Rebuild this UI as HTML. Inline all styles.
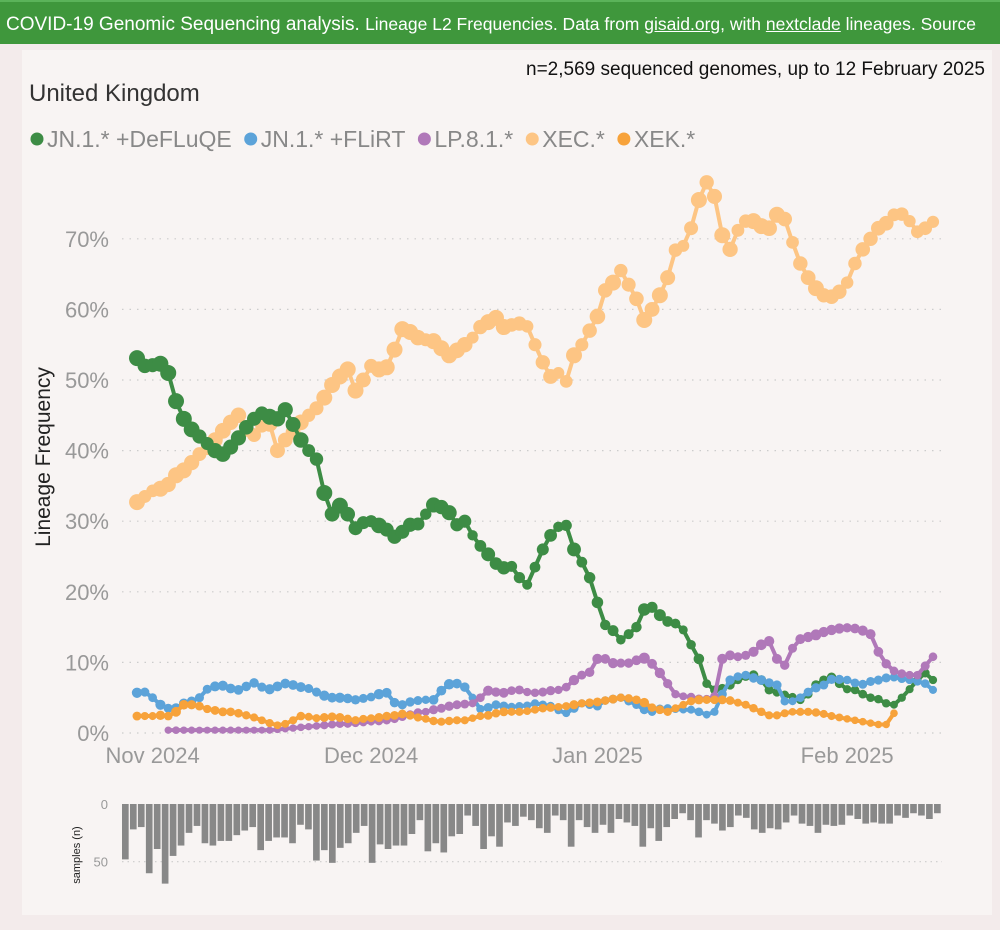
<!DOCTYPE html>
<html><head><meta charset="utf-8">
<style>
body{margin:0;width:1000px;height:930px;background:#f3ebeb;font-family:"Liberation Sans",sans-serif;overflow:hidden;position:relative}
#hdr{position:absolute;left:0;top:0;width:1000px;height:44px;background:#3f973c;color:#fff;font-size:19px;line-height:44px;white-space:nowrap;padding-left:6px;box-sizing:border-box;border-top:2px solid #5bb35a;overflow:hidden}
#hdr u{text-decoration:underline}
#panel{position:absolute;left:22px;top:50px;width:970px;height:865px;background:#f8f4f3}
svg{position:absolute;left:0;top:0}
</style></head><body>
<div id="hdr">COVID-19 Genomic Sequencing analysis. <span style="font-size:17.5px">Lineage L2 Frequencies. Data from <u>gisaid.org</u>, with <u>nextclade</u> lineages. Source</span></div>
<div id="panel"></div>
<svg id="chart" width="1000" height="930">
<text x="985" y="75" text-anchor="end" font-size="19" fill="#111">n=2,569 sequenced genomes, up to 12 February 2025</text>
<text x="29" y="101" font-size="24" fill="#333">United Kingdom</text>
<g id="legend"></g>
<text transform="translate(50,457) rotate(-90)" text-anchor="middle" font-size="21" fill="#222">Lineage Frequency</text>
<text transform="translate(80,855) rotate(-90)" text-anchor="middle" font-size="11" fill="#222">samples (n)</text>
<g id="grid"></g><g id="bars"></g><g id="series"></g><g id="axes"></g>
</svg>
<script>
const categories=["JN.1.* +DeFLuQE","JN.1.* +FLiRT","LP.8.1.*","XEC.*","XEK.*"];
const colors=["#3d8c45","#5ca3d9","#b078b9","#fdc584","#f7a23a"];
const xTickLabels=["Nov 2024","Dec 2024","Jan 2025","Feb 2025"];
const xTickIdx=[2,30,59,91];
const yTicks=[0,10,20,30,40,50,60,70];
const defluqe=[53.1,52,52.1,52.3,51,47,44.5,43,42,41,40,39.5,40.5,41.8,43.3,44.5,45.3,44.8,44.5,45.8,43.7,41.5,40,38.8,34,31,32.2,31,29,29.8,30,29.4,28.8,27.8,28.5,29.5,29.6,31,32.3,32,31.2,29.5,30,28,26.5,25.3,24,23.4,23.6,22,21,23.5,26,28,29.2,29.4,26,24.2,22,18.5,15.3,14.5,13.2,14,15,17.5,17.8,16.7,15.8,15.5,14.6,12.5,10.5,7,6.1,6.3,6.8,7.5,8,8.2,7.5,6.1,5.8,5.4,5.1,4.7,5.5,6.8,7.5,7.9,7,6.2,6.1,5.5,5,4.8,4.2,4,5,6.2,7.5,8.5,7.5];
const flirt=[5.7,5.8,5,4,3.5,3.5,4.2,4.5,5,6.2,6.6,6.7,6.3,6.1,6.6,7.1,6.5,6.2,6.6,7,6.8,6.5,6.3,5.8,5.3,5,5,4.9,4.7,4.9,5.1,5.5,5.7,4.3,4,4.4,4.6,4.7,4.7,6,6.9,7,6.5,5,3.4,3.6,4,3.8,3.7,3.8,3.9,4.2,4,3.8,3.2,2.8,3.5,4.2,4,3.8,4.6,4.8,5,4.5,4,3.3,3,3.4,3.5,3.4,3.3,3.3,3,2.6,3,5.5,7.5,8,8.2,7.8,7.5,7.1,6.8,4.5,4.5,5,5.8,6.4,6.8,7.6,7.6,7.5,7.1,6.9,7.3,7.5,7.8,7.9,7.7,7.5,7.3,7,6.1];
const lp81=[null,null,null,null,0.4,0.4,0.4,0.4,0.4,0.4,0.4,0.4,0.4,0.4,0.4,0.4,0.4,0.4,0.5,0.6,0.7,0.8,0.9,1,1.1,1.2,1.3,1.3,1.4,1.5,1.6,1.7,1.8,2,2.3,2.6,2.9,3,3.3,3.5,3.8,4,4.1,4.2,5,6,5.8,5.7,6,6.1,5.8,5.7,5.8,6,6.1,6.5,7.5,8.2,8.6,10.5,10.5,9.9,9.9,9.9,10.3,10.6,9.8,8.5,7,5.5,5.2,5.1,4.8,4.8,5.2,10.5,11,10.8,11,11.5,12.5,13,10.5,9.6,12,13.3,13.6,13.9,14.3,14.6,14.8,14.9,14.8,14.5,14,11.5,9.8,8.8,8.4,8.2,8.2,9.5,10.8];
const xec=[32.7,33.5,34.3,34.6,35.2,36.5,37.2,38.3,39.5,40.3,41.5,42.8,44,45,43,42.2,43.5,43.8,40,41.5,42.6,44,45,46,47.5,49.3,50.5,51.5,48.5,50,52,51.5,51.8,54.3,57.2,56.8,56,55.7,55.5,54.5,53.5,54.2,55,56,57.5,58.2,58.8,57.5,57.8,58,57.6,55,52.5,50.5,51,49.8,53.5,55,57,59,62.7,63.8,65.5,63.5,61.5,58.5,60,62,64.5,68.4,69,71.5,75.5,78,76,70.5,68.5,71.2,72.5,72.5,71.8,71.5,73.4,72.8,69.5,66.5,64.5,63,62,61.8,62.5,63.8,66.5,68.5,70,71.5,72.2,73.4,73.5,72.5,71,71.5,72.4];
const xek=[2.4,2.4,2.4,2.5,2.4,3,4,4,3.8,3.4,3.2,3,3,2.8,2.5,2.2,1.8,1.4,1.1,1.3,1.8,2.4,2.3,2.1,2.2,2.3,2.2,2,1.8,2,2.1,2.2,2.4,2.5,2.7,2.5,2.2,2,1.7,1.6,1.7,1.8,1.8,2.1,2.4,2.5,2.8,3,3,3,3.1,3.3,3.5,3.6,3.7,3.8,4,4.2,4.3,4.4,4.6,4.8,5,4.9,4.7,4.3,3.6,3.3,3,3.5,4,4.5,4.7,4.7,4.7,4.7,4.6,4.3,4,3.5,3,2.5,2.5,2.8,3,3,3,2.9,2.7,2.4,2.2,2,1.8,1.6,1.4,1.2,1.2,2.8,null,null,null,null,null];
const samples=[48,22,20,60,39,69,45,36,25,19,34,36,32,32,27,23,20,40,32,29,29,34,18,22,49,40,51,38,34,25,19,51,35,39,36,36,26,14,41,34,42,28,26,10,19,39,28,37,16,19,11,14,21,25,10,14,37,14,20,25,18,25,13,16,19,37,21,32,20,13,8,14,29,14,17,23,20,10,12,22,25,21,22,16,10,17,19,25,18,19,18,10,13,17,16,17,17,10,12,8,10,13,8];
const sampleTicks=[0,50];

const NS="http://www.w3.org/2000/svg";
function mk(tag,attrs,parent){const e=document.createElementNS(NS,tag);for(const k in attrs)e.setAttribute(k,attrs[k]);parent.appendChild(e);return e;}
const N=xec.length;
const xScale=i=>137+i*(796/(N-1));
const yScale=v=>733-v*7.06;
const bxScale=i=>122+i*(820/samples.length);
const byScale=n=>804+n*1.154;
const grid=document.getElementById('grid'),axes=document.getElementById('axes'),barsG=document.getElementById('bars'),ser=document.getElementById('series'),leg=document.getElementById('legend');

yTicks.forEach(t=>{
  const g=mk('line',{x1:122,x2:942,y1:yScale(t),y2:yScale(t),stroke:'#ccc','stroke-width':1.2,'stroke-dasharray':'1.5 6'},grid);
  
  
  const tx=mk('text',{x:109,y:yScale(t)+8,'text-anchor':'end','font-size':22,fill:'#999'},axes);
  tx.textContent=t+'%';
  
  
});
xTickLabels.forEach((l,k)=>{
  const tx=mk('text',{x:xScale(xTickIdx[k]),y:763,'text-anchor':'middle','font-size':22,fill:'#999'},axes);
  tx.textContent=l;
  
  
});
sampleTicks.forEach(t=>{
  const tx=mk('text',{x:108,y:byScale(t)+5,'text-anchor':'end','font-size':13,fill:'#999'},axes);
  tx.textContent=t;
  
  
  if(t>0){const gl=mk('line',{x1:122,x2:942,y1:byScale(t),y2:byScale(t),stroke:'#ccc','stroke-width':1.2,'stroke-dasharray':'1.5 4'},grid);
  
  }
});
const bw=820/samples.length;
samples.forEach((n,i)=>{
  const r=mk('rect',{x:bxScale(i),y:804,width:bw-1.3,height:byScale(n)-804,fill:'#888'},barsG);
  
  
});
const seriesData=[defluqe,flirt,lp81,xec,xek];
const order=[3,0,1,2,4];
order.forEach(s=>{
  const d=seriesData[s];
  const g=mk('g',{},ser);
  
  
  let p='';let started=false;
  d.forEach((v,i)=>{if(v==null){started=false;return;}p+=(started?'L':'M')+xScale(i)+' '+yScale(v)+' ';started=true;});
  mk('path',{d:p,stroke:colors[s],'stroke-width':4,fill:'none'},g);
  d.forEach((v,i)=>{
    if(v==null)return;
    const n=samples[Math.min(i,samples.length-1)];
    const r=Math.min(8,3.2+Math.sqrt(n*v/100)*1.2);
    const c=mk('circle',{cx:xScale(i),cy:yScale(v),r:r,fill:colors[s]},g);
    
    
  });
});
let lx=30;
categories.forEach((c,k)=>{
  const g=mk('g',{},leg);
  
  
  mk('circle',{cx:lx+7,cy:139,r:6.5,fill:colors[k]},g);
  const t=mk('text',{x:lx+17,y:147,'font-size':23,fill:'#888'},g);
  t.textContent=c;
  lx+=17+t.getComputedTextLength()+12;
});
</script>
</body></html>
